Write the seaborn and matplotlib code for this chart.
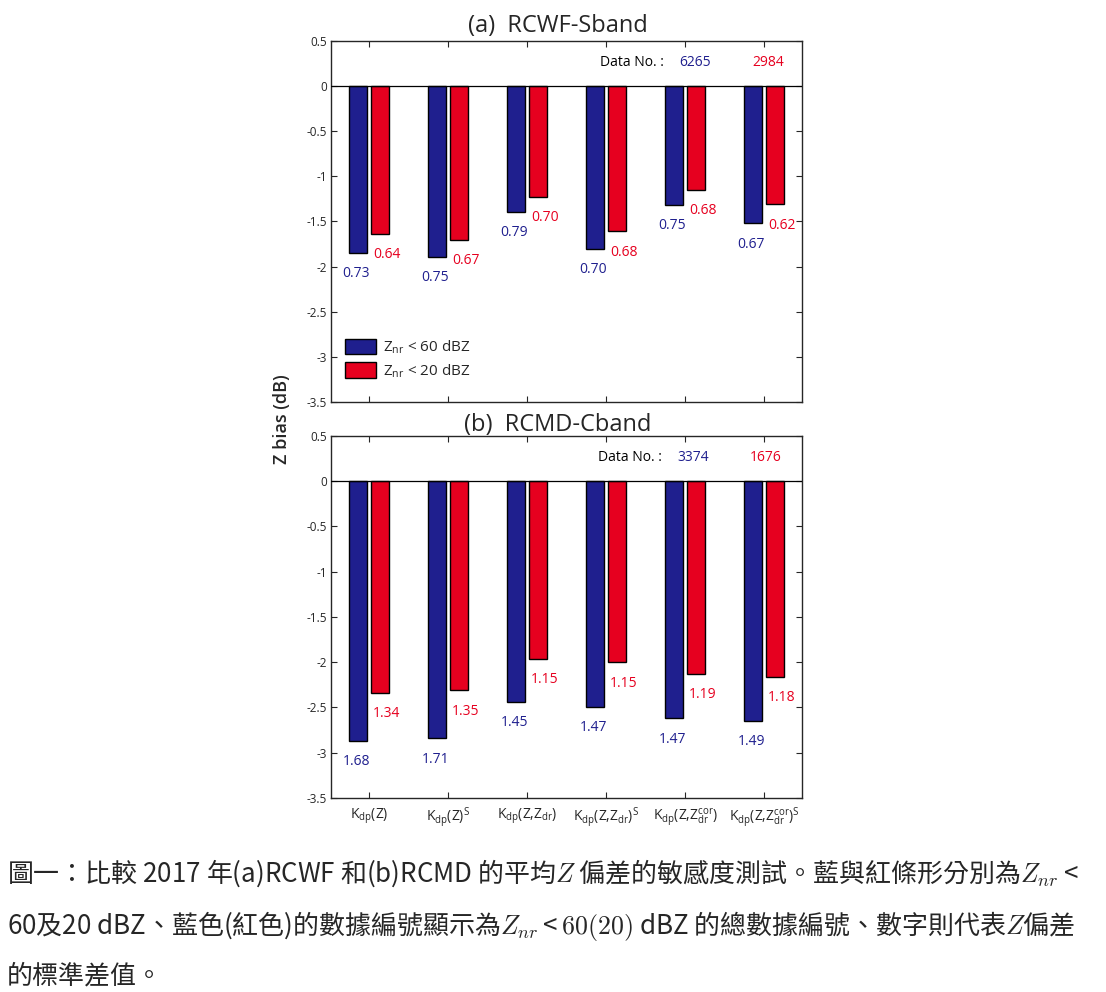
import numpy as np
import pandas as pd
import matplotlib
matplotlib.use("Agg")
import matplotlib.pyplot as plt
import matplotlib.patches as mpatches
import seaborn as sns

# Methods (x categories), shared by both panels
methods = [r'K$_{dp}$(Z)', r'K$_{dp}$(Z)$^{S}$', r'K$_{dp}$(Z,Z$_{dr}$)',
           r'K$_{dp}$(Z,Z$_{dr}$)$^{S}$', r'K$_{dp}$(Z,Z$_{dr}^{cor}$)',
           r'K$_{dp}$(Z,Z$_{dr}^{cor}$)$^{S}$']
conds = ['Znr < 60 dBZ', 'Znr < 20 dBZ']
legend_labels = [r'Z$_{nr}$ < 60 dBZ', r'Z$_{nr}$ < 20 dBZ']

# (a) RCWF S-band
rcwf_bias_60 = [-1.85, -1.89, -1.39, -1.80, -1.32, -1.52]
rcwf_bias_20 = [-1.64, -1.70, -1.23, -1.61, -1.15, -1.31]
rcwf_std_60 = [0.73, 0.75, 0.79, 0.70, 0.75, 0.67]
rcwf_std_20 = [0.64, 0.67, 0.70, 0.68, 0.68, 0.62]
rcwf_count = [6265, 2984]

# (b) RCMD C-band
rcmd_bias_60 = [-2.87, -2.84, -2.44, -2.49, -2.62, -2.65]
rcmd_bias_20 = [-2.34, -2.31, -1.96, -2.00, -2.13, -2.16]
rcmd_std_60 = [1.68, 1.71, 1.45, 1.47, 1.47, 1.49]
rcmd_std_20 = [1.34, 1.35, 1.15, 1.15, 1.19, 1.18]
rcmd_count = [3374, 1676]

yticks = [0.5, 0, -0.5, -1, -1.5, -2, -2.5, -3, -3.5]
ytick_labels = ['0.5', '0', '-0.5', '-1', '-1.5', '-2', '-2.5', '-3', '-3.5']

blue = '#1f1f8e'
red = '#e6001f'
axis_col = '#262626'

sns.set_style("ticks")
plt.rcParams['font.family'] = ['Open Sans', 'DejaVu Sans']
plt.rcParams['mathtext.default'] = 'regular'
plt.rcParams['axes.unicode_minus'] = False


def make_df(b60, b20):
    return pd.DataFrame({
        'method': methods * 2,
        'cond': [conds[0]] * len(methods) + [conds[1]] * len(methods),
        'bias': b60 + b20,
    })


def draw_panel(ax, b60, b20, s60, s20, counts, title, title_pad, count_x):
    df = make_df(b60, b20)
    sns.barplot(data=df, x='method', y='bias', hue='cond', order=methods,
                hue_order=conds, palette=[blue, red], width=0.56, gap=0.16,
                edgecolor='black', linewidth=1.0, saturation=1, legend=False,
                errorbar=None, ax=ax)
    ax.axhline(0, color='black', lw=0.9, zorder=3)
    ax.set_xlim(-0.48, 5.48)
    ax.set_ylim(-3.5, 0.5)
    ax.set_yticks(yticks)
    ax.set_yticklabels(ytick_labels)
    ax.set_xlabel('')
    ax.set_ylabel('')
    for sp in ax.spines.values():
        sp.set_visible(True)
        sp.set_color(axis_col)
        sp.set_linewidth(1.0)
    ax.tick_params(axis='both', direction='in', length=4.5, width=0.8,
                   color=axis_col, top=True, right=True)
    ax.tick_params(axis='y', labelsize=8.5, pad=3)
    ax.tick_params(axis='x', labelsize=10, pad=6)
    ax.set_title(title, fontsize=17, pad=title_pad, x=0.482)

    # std labels below each bar
    for cont, stds, col in zip(ax.containers, [s60, s20], [blue, red]):
        for bar, s in zip(cont, stds):
            y = bar.get_height() - 0.23
            if col == blue:
                ax.text(bar.get_x() + bar.get_width() / 2 - 0.02, y, f'{s:.2f}',
                        color=col, ha='center', va='center', fontsize=10)
            else:
                ax.text(bar.get_x() + 0.03, y, f'{s:.2f}', color=col,
                        ha='left', va='center', fontsize=10)

    ax.text(count_x[0], 0.26, 'Data No. :', color='black', ha='left',
            va='center', fontsize=10)
    ax.text(count_x[1], 0.26, str(counts[0]), color=blue, ha='left',
            va='center', fontsize=10)
    ax.text(count_x[2], 0.26, str(counts[1]), color=red, ha='left',
            va='center', fontsize=10)


fig = plt.figure(figsize=(11.06, 9.92), dpi=100)
ax1 = fig.add_axes([0.2993, 0.5948, 0.4259, 0.3639])
ax2 = fig.add_axes([0.2993, 0.1956, 0.4259, 0.3649])

draw_panel(ax1, rcwf_bias_60, rcwf_bias_20, rcwf_std_60, rcwf_std_20,
           rcwf_count, '(a)  RCWF-Sband', 6.5, [2.92, 3.93, 4.85])
draw_panel(ax2, rcmd_bias_60, rcmd_bias_20, rcmd_std_60, rcmd_std_20,
           rcmd_count, '(b)  RCMD-Cband', 3.5, [2.90, 3.90, 4.82])
ax1.tick_params(axis='x', labelbottom=False)

handles = [mpatches.Patch(facecolor=c, edgecolor='black', linewidth=1.0)
           for c in [blue, red]]
ax1.legend(handles, legend_labels, loc='lower left', bbox_to_anchor=(0.03, 0.062),
           frameon=False, fontsize=11, borderpad=0, borderaxespad=0,
           handlelength=2.0, handleheight=1.15, handletextpad=0.45,
           labelspacing=0.4)

fig.text(282 / 1106, 1 - 419 / 992, 'Z bias (dB)', rotation=90, ha='center',
         va='center', fontsize=13, fontweight='semibold')

# caption
cap_font = ['Noto Sans CJK TC', 'DejaVu Sans']
cap_lines = [
    r'圖一：比較 2017 年(a)RCWF 和(b)RCMD 的平均$\mathit{Z}$ 偏差的敏感度測試。藍與紅條形分別為$\mathit{Z}_{\mathit{nr}}$ <',
    r'60及20 dBZ、藍色(紅色)的數據編號顯示為$\mathit{Z}_{\mathit{nr}} < \mathrm{60(20)}$ dBZ 的總數據編號、數字則代表$\mathit{Z}$偏差',
    '的標準差值。',
]
cap_base = [882, 934, 983]
for line, yb in zip(cap_lines, cap_base):
    fig.text(7 / 1106, 1 - yb / 992, line, ha='left', va='baseline',
             fontsize=18.7, family=cap_font, math_fontfamily='cm')

fig.savefig('out.png', dpi=100)
